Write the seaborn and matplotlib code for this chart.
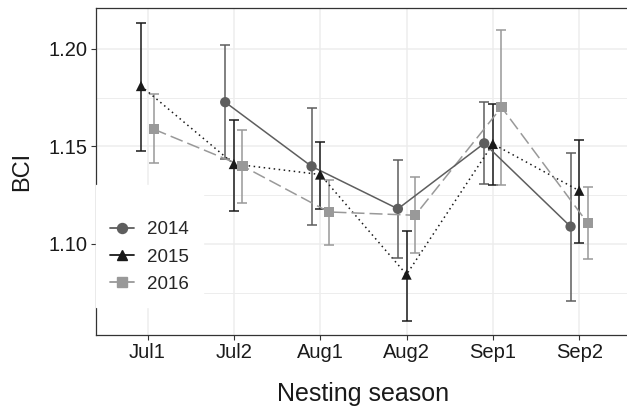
import numpy as np
import pandas as pd
import matplotlib
matplotlib.use("Agg")
import matplotlib.pyplot as plt
from matplotlib.lines import Line2D
from matplotlib.ticker import MultipleLocator
import seaborn as sns

# ---- data ----
categories = ['Jul1', 'Jul2', 'Aug1', 'Aug2', 'Sep1', 'Sep2']
years = ['2014', '2015', '2016']

bci_2014 = [np.nan, 1.1727, 1.1398, 1.1180, 1.1516, 1.1089]
lo_2014 = [np.nan, 1.1436, 1.1097, 1.0928, 1.1308, 1.0708]
hi_2014 = [np.nan, 1.2019, 1.1699, 1.1432, 1.1728, 1.1467]

bci_2015 = [1.1810, 1.1410, 1.1356, 1.0843, 1.1513, 1.1273]
lo_2015 = [1.1478, 1.1171, 1.1178, 1.0605, 1.1303, 1.1007]
hi_2015 = [1.2132, 1.1636, 1.1523, 1.1068, 1.1718, 1.1533]

bci_2016 = [1.1588, 1.1400, 1.1164, 1.1147, 1.1701, 1.1106]
lo_2016 = [1.1414, 1.1212, 1.0995, 1.0954, 1.1300, 1.0923]
hi_2016 = [1.1768, 1.1586, 1.1327, 1.1344, 1.2097, 1.1291]

series = {
    '2014': (bci_2014, lo_2014, hi_2014),
    '2015': (bci_2015, lo_2015, hi_2015),
    '2016': (bci_2016, lo_2016, hi_2016),
}

# ---- long table with dodged positions ----
dodge_width = 0.3
rows = []
for ci, cat in enumerate(categories):
    present = [y for y in years if not np.isnan(series[y][0][ci])]
    n = len(present)
    for k, y in enumerate(present):
        off = (k - (n - 1) / 2) * dodge_width / n
        rows.append(dict(season=cat, year=y, xpos=ci + off,
                         bci=series[y][0][ci], lo=series[y][1][ci], hi=series[y][2][ci]))
df = pd.DataFrame(rows)

colors = {'2014': '#5e5e5e', '2015': '#1a1a1a', '2016': '#999999'}
markers = {'2014': 'o', '2015': '^', '2016': 's'}
dashes = {'2014': '', '2015': (1, 2.3), '2016': (8.5, 3.3)}

# ---- style ----
sns.set_theme(style='white')
plt.rcParams['font.family'] = ['Liberation Sans', 'DejaVu Sans']

fig = plt.figure(figsize=(6.27, 4.07), dpi=100)
ax = fig.add_axes([95.7 / 627, 1 - 335 / 407, (631 - 95.7) / 627, (335 - 8) / 407])

# grid
ax.set_axisbelow(True)
ax.yaxis.set_major_locator(MultipleLocator(0.05))
ax.yaxis.set_minor_locator(MultipleLocator(0.025))
ax.grid(which='major', color='#ededed', linewidth=1.1)
ax.yaxis.grid(which='minor', color='#ededed', linewidth=0.7)

# error bars
for y in years:
    d = df[df.year == y]
    ax.errorbar(d.xpos, d.bci, yerr=[d.bci - d.lo, d.hi - d.bci], fmt='none',
                ecolor=colors[y], elinewidth=1.1, capsize=3.9, capthick=1.1, zorder=2)

# lines
sns.lineplot(data=df, x='xpos', y='bci', hue='year', style='year', palette=colors,
             dashes=dashes, markers=False, linewidth=1.1, sort=True, legend=False,
             ax=ax, zorder=3)
# points
sns.scatterplot(data=df, x='xpos', y='bci', hue='year', style='year', palette=colors,
                markers=markers, s=55, linewidth=0, legend=False, ax=ax, zorder=4)

ax.set_xlim(-0.6, 5.6)
ax.set_ylim(1.0533, 1.221)
ax.set_xticks(range(len(categories)))
ax.set_xticklabels(categories)
ax.set_yticks([1.10, 1.15, 1.20])
ax.set_yticklabels(['1.10', '1.15', '1.20'])

for sp in ax.spines.values():
    sp.set_visible(True)
    sp.set_color('#333333')
    sp.set_linewidth(0.9)

ax.tick_params(axis='both', which='major', direction='out', length=3.6, width=0.8,
               color='#333333', labelsize=14.5, labelcolor='#1a1a1a', pad=2.5,
               left=True, bottom=True)
ax.tick_params(axis='y', which='minor', length=0)

ax.set_xlabel('Nesting season', fontsize=18, color='#1a1a1a', labelpad=14)
ax.set_ylabel('BCI', fontsize=17, color='#1a1a1a', labelpad=11)

handles = [Line2D([0], [0], color=colors[y], marker=markers[y], markersize=7.2,
                  linewidth=1.3, linestyle='-') for y in years]
leg = ax.legend(handles, years, loc='lower left', bbox_to_anchor=(0.0, 28 / 327),
                borderaxespad=0, fontsize=13.5, frameon=True, fancybox=False,
                framealpha=1, edgecolor='white', facecolor='white',
                handlelength=1.3, handletextpad=0.7, labelspacing=0.55,
                borderpad=0.75, title=' ', title_fontsize=9)
leg.set_zorder(5)

fig.savefig('out.png', dpi=100)
